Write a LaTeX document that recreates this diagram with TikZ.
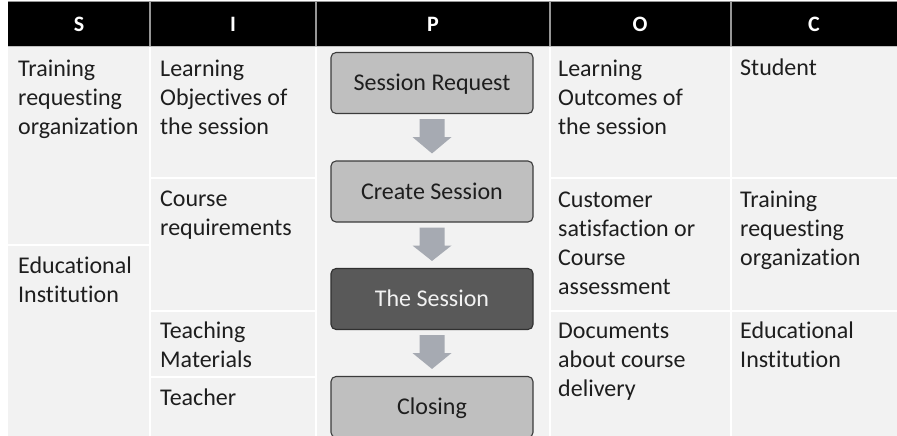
\documentclass[tikz,border=0pt]{standalone}
\usepackage{fontspec}
\setmainfont[Ligatures=NoCommon]{Carlito}
\usetikzlibrary{calc}
\definecolor{cellbg}{RGB}{242,242,242}
\definecolor{boxfill}{RGB}{191,191,191}
\definecolor{boxdark}{RGB}{89,89,89}
\definecolor{boxline}{RGB}{60,60,60}
\definecolor{arrowgray}{RGB}{166,170,178}
\definecolor{hdrline}{RGB}{150,150,150}
\definecolor{txt}{RGB}{30,30,30}
\begin{document}
\begin{tikzpicture}[x=1pt,y=-1pt,
  cell/.style={anchor=base west, align=left, inner sep=0pt, font=\fontsize{24}{29}\selectfont, text=txt},
  hdr/.style={font=\bfseries\fontsize{22}{26}\selectfont, text=white, inner sep=0pt},
  proc/.style={draw=boxline, line width=1.1pt, rounded corners=5pt, fill=boxfill, minimum width=202pt, minimum height=61pt, inner sep=0pt, font=\fontsize{24}{29}\selectfont, text=txt, text height=15.5pt, text depth=0pt},
  procdark/.style={proc, fill=boxdark, draw=boxline!80!black, text=cellbg},
  sep/.style={white, line width=2pt},
  hsep/.style={hdrline, line width=1.5pt},
  blockarrow/.style={fill=arrowgray}]
\useasboundingbox (0,0) rectangle (897,436);
\fill[white] (0,0) rectangle (897,436);
% body background
\fill[cellbg] (8,47) rectangle (897,436);
% header
\fill[black] (8,2.5) rectangle (897,46);
\draw[hdrline, line width=1pt] (8,2) -- (897,2);
\draw[hdrline!60!white, line width=1pt] (8,46.5) -- (897,46.5);
\foreach \xx in {150,316,550,731} \draw[hsep] (\xx,2.5) -- (\xx,46);
% body separators
\foreach \xx in {150,316,550,731} \draw[sep] (\xx,47) -- (\xx,436);
\draw[sep] (8,245) -- (150,245);
\draw[sep] (150,178) -- (316,178);
\draw[sep] (150,311) -- (316,311);
\draw[sep] (150,377) -- (316,377);
\draw[sep] (550,178) -- (897,178);
\draw[sep] (550,311) -- (897,311);
% header labels
\node[hdr] (hS) at (79,24.5) {S};
\node[hdr] (hI) at (233,24.5) {I};
\node[hdr] (hP) at (433,24.5) {P};
\node[hdr] (hO) at (640,24.5) {O};
\node[hdr] (hC) at (814,24.5) {C};
% S column (anchor = baseline of last line)
\node[cell] (s1) at (18,134) {Training\\requesting\\organization};
\node[cell] (s2) at (18,302) {Educational\\Institution};
% I column
\node[cell] (i1) at (160,134) {Learning\\Objectives of\\the session};
\node[cell] (i2) at (160,235) {Course\\requirements};
\node[cell] (i3) at (160,367) {Teaching\\Materials};
\node[cell] (i4) at (160,405) {Teacher};
% O column
\node[cell] (o1) at (558,134) {Learning\\Outcomes of\\the session};
\node[cell] (o2) at (558,294) {Customer\\satisfaction or\\Course\\assessment};
\node[cell] (o3) at (558,396) {Documents\\about course\\delivery};
% C column
\node[cell] (c1) at (740,76) {Student};
\node[cell] (c2) at (740,265) {Training\\requesting\\organization};
\node[cell] (c3) at (740,367) {Educational\\Institution};
% P column boxes
\node[proc] (sr) at (432,83) {Session Request};
\node[proc] (cs) at (432,191.5) {Create Session};
\node[procdark] (ts) at (432,299) {The Session};
\node[proc] (cl) at (432,407) {Closing};
% block arrows
\foreach \a/\b in {sr/cs, cs/ts, ts/cl}{
  \fill[arrowgray] ($(\a.south)+(-12.5,5)$) -- ($(\a.south)+(12.5,5)$) -- ($(\a.south)+(12.5,23)$) -- ($(\a.south)+(19.5,23)$) -- ($(\b.north)+(0,-7)$) -- ($(\a.south)+(-19.5,23)$) -- ($(\a.south)+(-12.5,23)$) -- cycle;
}
\end{tikzpicture}
\end{document}
